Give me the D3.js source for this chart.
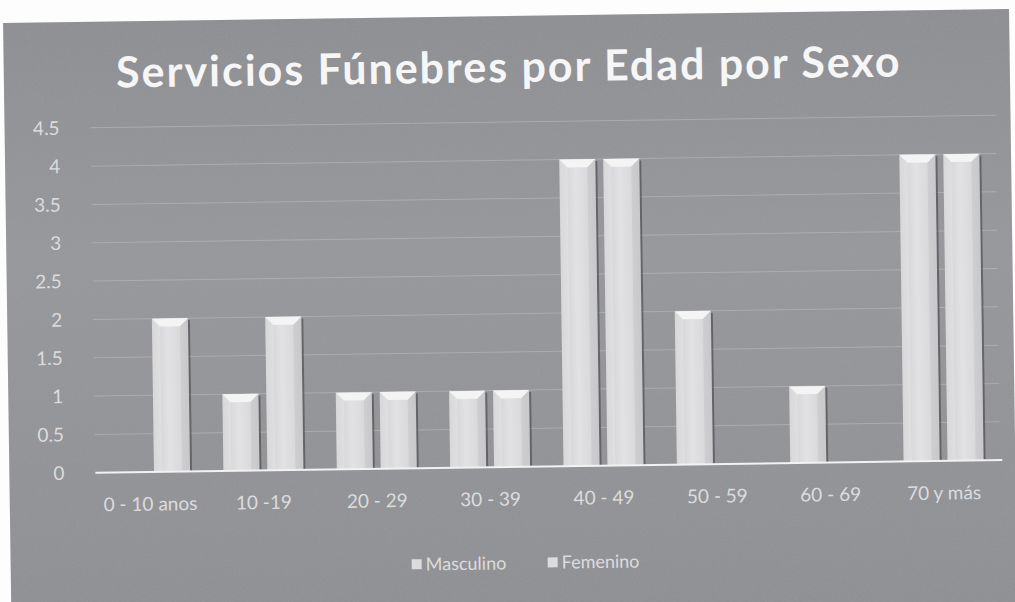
<!DOCTYPE html>
<html>
<head>
<meta charset="utf-8">
<script src="https://cdn.jsdelivr.net/npm/d3@7"></script>
<style>
  html, body { margin: 0; padding: 0; background: #fdfdfd; }
  svg { display: block; }
  text { font-family: Lato, "Open Sans", sans-serif; }
</style>
</head>
<body>
<div id="chart"></div>
<script>
// chart values
var categories = ["0 - 10 anos", "10 -19", "20 - 29", "30 - 39", "40 - 49", "50 - 59", "60 - 69", "70 y más"];
var series = ["Masculino", "Femenino"];
var masculino = [0, 1, 1, 1, 4, 2, 1, 4];
var femenino = [2, 2, 1, 1, 4, 0, 0, 4];
var yTicks = [0, 0.5, 1, 1.5, 2, 2.5, 3, 3.5, 4, 4.5];
var title = "Servicios Fúnebres por Edad por Sexo";

var width = 1015, height = 602;

var svg = d3.select("#chart").append("svg")
    .attr("width", width)
    .attr("height", height);

var defs = svg.append("defs");

// grainy scan texture
var noise = defs.append("filter").attr("id", "grain")
    .attr("x", 0).attr("y", 0).attr("width", "100%").attr("height", "100%");
noise.append("feTurbulence")
    .attr("type", "fractalNoise")
    .attr("baseFrequency", 0.85)
    .attr("numOctaves", 2)
    .attr("seed", 4)
    .attr("result", "n");
noise.append("feColorMatrix")
    .attr("in", "n")
    .attr("type", "matrix")
    .attr("values", "0 0 0 0 0.35  0 0 0 0 0.35  0 0 0 0 0.37  1.2 1.2 0 0 -0.85")
    .attr("result", "g");
noise.append("feComposite").attr("in", "g").attr("in2", "SourceGraphic").attr("operator", "in");

// bar face gradient
var barGrad = defs.append("linearGradient").attr("id", "barFace")
    .attr("x1", 0).attr("x2", 1).attr("y1", 0).attr("y2", 0);
barGrad.append("stop").attr("offset", "0%").attr("stop-color", "#cfcfd1");
barGrad.append("stop").attr("offset", "45%").attr("stop-color", "#e2e2e4");
barGrad.append("stop").attr("offset", "100%").attr("stop-color", "#d3d3d5");

var bgGrad = defs.append("linearGradient").attr("id", "bg")
    .attr("x1", 0).attr("x2", 0).attr("y1", 0).attr("y2", 1);
bgGrad.append("stop").attr("offset", "0%").attr("stop-color", "#8d8e91");
bgGrad.append("stop").attr("offset", "40%").attr("stop-color", "#97989b");
bgGrad.append("stop").attr("offset", "100%").attr("stop-color", "#8e8f92");

// the scan is a little crooked
var page = svg.append("g").attr("transform", "rotate(-0.8, 507, 300)");

page.append("rect")
    .attr("x", 7).attr("y", 16)
    .attr("width", 1006).attr("height", 594)
    .attr("fill", "url(#bg)");
page.append("rect")
    .attr("x", 7).attr("y", 16)
    .attr("width", 1006).attr("height", 594)
    .attr("fill", "#000")
    .attr("filter", "url(#grain)")
    .attr("opacity", 0.45);

// scales
var x0 = d3.scaleBand()
    .domain(categories)
    .range([91, 998])
    .padding(0);

var x1 = d3.scaleBand()
    .domain(series)
    .range([0, x0.bandwidth()])
    .paddingInner(0.18)
    .paddingOuter(0.38);

var y = d3.scaleLinear()
    .domain([0, 4.5])
    .range([467, 122]);

// gridlines
page.append("g")
    .selectAll("line")
    .data(yTicks.slice(1))
    .enter().append("line")
    .attr("x1", 93).attr("x2", 998)
    .attr("y1", function(d) { return y(d); })
    .attr("y2", function(d) { return y(d); })
    .attr("stroke", "#b9babd")
    .attr("stroke-opacity", 0.6)
    .attr("stroke-width", 1);

// y axis labels
var yAxis = d3.axisLeft(y).tickValues(yTicks).tickSize(0).tickPadding(0)
    .tickFormat(function(d) { return String(d); });
var yg = page.append("g")
    .attr("transform", "translate(62,0)")
    .call(yAxis);
yg.select(".domain").remove();
yg.selectAll("text")
    .attr("fill", "#dcdcde")
    .style("font-size", "19px");

// bars
var rows = categories.map(function(c, i) {
    return { cat: c, values: [
        { key: "Masculino", value: masculino[i] },
        { key: "Femenino", value: femenino[i] }
    ]};
});

var bevel = 8;
var groups = page.append("g")
    .selectAll("g")
    .data(rows)
    .enter().append("g")
    .attr("transform", function(d) { return "translate(" + x0(d.cat) + ",0)"; });

var bars = groups.selectAll("g")
    .data(function(d) { return d.values.filter(function(v) { return v.value > 0; }); })
    .enter().append("g");

// shadow on right side
bars.append("rect")
    .attr("x", function(d) { return x1(d.key) + 2; })
    .attr("y", function(d) { return y(d.value) + 2; })
    .attr("width", x1.bandwidth())
    .attr("height", function(d) { return y(0) - y(d.value) - 2; })
    .attr("fill", "#3c3d40")
    .attr("opacity", 0.55);

bars.append("rect")
    .attr("x", function(d) { return x1(d.key); })
    .attr("y", function(d) { return y(d.value); })
    .attr("width", x1.bandwidth())
    .attr("height", function(d) { return y(0) - y(d.value); })
    .attr("fill", "url(#barFace)");

// bevelled top
bars.append("polygon")
    .attr("points", function(d) {
        var l = x1(d.key), r = l + x1.bandwidth(), t = y(d.value);
        return [[l, t], [r, t], [r - bevel, t + bevel], [l + bevel, t + bevel]].join(" ");
    })
    .attr("fill", "#f4f4f5");
bars.append("polygon")
    .attr("points", function(d) {
        var l = x1(d.key), t = y(d.value);
        return [[l, t], [l + bevel, t + bevel], [l + bevel, y(0)], [l, y(0)]].join(" ");
    })
    .attr("fill", "#ffffff")
    .attr("opacity", 0.18);
bars.append("polygon")
    .attr("points", function(d) {
        var r = x1(d.key) + x1.bandwidth(), t = y(d.value);
        return [[r, t], [r - bevel, t + bevel], [r - bevel, y(0)], [r, y(0)]].join(" ");
    })
    .attr("fill", "#9a9a9e")
    .attr("opacity", 0.18);

// baseline
page.append("line")
    .attr("x1", 93).attr("x2", 1000)
    .attr("y1", y(0)).attr("y2", y(0))
    .attr("stroke", "#f2f2f3")
    .attr("stroke-width", 2);

// x axis labels
var xAxis = d3.axisBottom(x0).tickSize(0).tickPadding(0);
var xg = page.append("g")
    .attr("transform", "translate(0,499)")
    .call(xAxis);
xg.select(".domain").remove();
xg.selectAll("text")
    .attr("dy", "0.35em")
    .attr("fill", "#dcdcde")
    .style("font-size", "19px");

// title
var t = page.append("text")
    .attr("x", 512)
    .attr("y", 82)
    .attr("text-anchor", "middle")
    .attr("fill", "#f6f6f7")
    .style("font-weight", "bold")
    .style("font-size", "44px")
    .style("letter-spacing", "2px")
    .text(title);
var tw = t.node().getComputedTextLength();
t.style("font-size", (44 * 783 / tw).toFixed(1) + "px");

// legend
var legend = page.append("g").attr("transform", "translate(0,563)");
var legX = { "Masculino": 408, "Femenino": 544 };
var items = legend.selectAll("g")
    .data(series)
    .enter().append("g")
    .attr("transform", function(d) { return "translate(" + legX[d] + ",0)"; });
items.append("rect")
    .attr("x", 0).attr("y", -5)
    .attr("width", 10).attr("height", 10)
    .attr("fill", "#dcdcde");
items.append("text")
    .attr("x", 14)
    .attr("dy", "0.35em")
    .attr("fill", "#dcdcde")
    .style("font-size", "18px")
    .text(function(d) { return d; });
</script>
</body>
</html>
